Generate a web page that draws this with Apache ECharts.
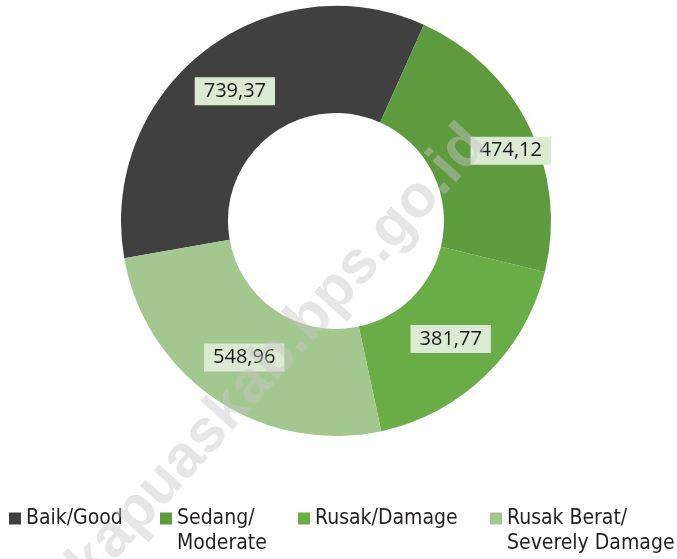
<!DOCTYPE html>
<html>
<head>
<meta charset="utf-8">
<script src="https://cdn.jsdelivr.net/npm/echarts@6/dist/echarts.min.js"></script>
<style>
  html, body { margin: 0; padding: 0; background: #fff; }
  #main { width: 677px; height: 559px; }
</style>
</head>
<body>
<div id="main"></div>
<script>
var categories = ['Baik/Good', 'Sedang/\nModerate', 'Rusak/Damage', 'Rusak Berat/\nSeverely Damage'];
var values = [739.37, 474.12, 381.77, 548.96];
var colors = ['#404040', '#5e9a3e', '#6aac46', '#a2c78f'];
var legendLeft = [4, 155, 293, 485];

var myChart = echarts.init(document.getElementById('main'));

// square at the top of a taller box so it lines up with the first text line
var tallIcon = 'path://M0,0H12V12H0Z M0,36.9L0.01,37Z';

var option = {
    animation: false,
    color: colors,
    legend: categories.map(function (name, i) {
        var twoLines = name.indexOf('\n') >= 0;
        return {
            data: [name],
            left: legendLeft[i],
            top: 501,
            icon: twoLines ? tallIcon : 'rect',
            itemWidth: 12,
            itemHeight: twoLines ? 37 : 12,
            selectedMode: false,
            textStyle: {
                fontFamily: '"DejaVu Sans Condensed", sans-serif',
                fontSize: 21,
                lineHeight: 25,
                color: '#231f20'
            }
        };
    }),
    series: [{
        type: 'pie',
        center: [336, 221],
        radius: [108, 215],
        startAngle: 190,
        clockwise: true,
        silent: true,
        label: {
            show: true,
            position: 'inside',
            formatter: function (p) {
                return p.value.toFixed(2).replace('.', ',');
            },
            fontFamily: '"Open Sans", sans-serif',
            fontSize: 20,
            lineHeight: 20,
            color: '#1a1a1a',
            backgroundColor: '#dbead3',
            padding: [4, 9]
        },
        labelLine: { show: false },
        data: values.map(function (v, i) {
            var item = { name: categories[i], value: v };
            if (i === 1) {
                item.label = { offset: [27, 2] };
            }
            return item;
        })
    }],
    graphic: [{
        type: 'text',
        x: 278,
        y: 355,
        rotation: 48 * Math.PI / 180,
        silent: true,
        z: 100,
        style: {
            text: 'kapuaskab.bps.go.id',
            font: 'bold 60px "Liberation Sans", Arial, sans-serif',
            fill: 'rgba(200,200,200,0.45)',
            align: 'center',
            verticalAlign: 'middle'
        }
    }]
};

myChart.setOption(option);
</script>
</body>
</html>
